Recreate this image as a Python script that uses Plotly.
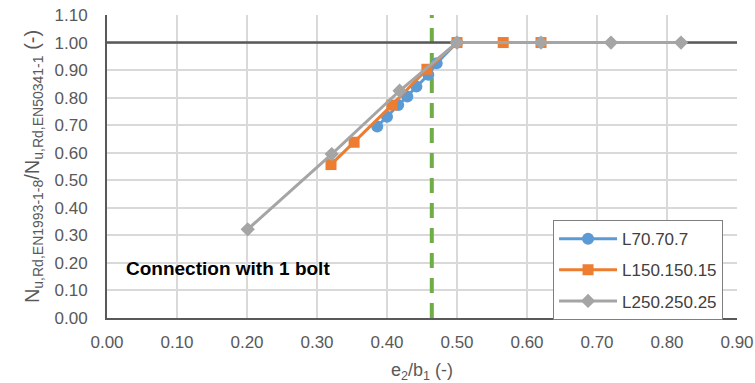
import plotly.graph_objects as go

# Data
x_l70 = [0.386, 0.400, 0.416, 0.429, 0.442, 0.459, 0.471, 0.500]
y_l70 = [0.695, 0.731, 0.773, 0.804, 0.840, 0.883, 0.925, 1.000]

x_l150 = [0.320, 0.353, 0.407, 0.457, 0.500, 0.566, 0.620]
y_l150 = [0.557, 0.638, 0.773, 0.903, 1.000, 1.000, 1.000]

x_l250 = [0.201, 0.321, 0.418, 0.500, 0.620, 0.720, 0.820]
y_l250 = [0.322, 0.595, 0.825, 1.000, 1.000, 1.000, 1.000]

names = ["L70.70.7", "L150.150.15", "L250.250.25"]
ref_y = 1.0
ref_x = 0.464
x_ticks = [0.0, 0.1, 0.2, 0.3, 0.4, 0.5, 0.6, 0.7, 0.8, 0.9]
y_ticks = [0.0, 0.1, 0.2, 0.3, 0.4, 0.5, 0.6, 0.7, 0.8, 0.9, 1.0, 1.1]

FONT = "Liberation Sans"
TXT = "#595959"

fig = go.Figure()

# green dashed reference line
fig.add_trace(go.Scatter(x=[ref_x, ref_x], y=[0, 1.1], mode="lines",
                         line=dict(color="#70AD47", width=4, dash="15px,10px"),
                         showlegend=False, hoverinfo="skip"))
# horizontal line at 1.0
fig.add_trace(go.Scatter(x=[0, 0.9], y=[ref_y, ref_y], mode="lines",
                         line=dict(color="#595959", width=2.5),
                         showlegend=False, hoverinfo="skip", cliponaxis=False))

fig.add_trace(go.Scatter(x=x_l70, y=y_l70, name=names[0], mode="lines+markers",
                         legendgroup="a",
                         line=dict(color="#5B9BD5", width=3),
                         marker=dict(symbol="circle", size=12, color="#5B9BD5")))
fig.add_trace(go.Scatter(x=x_l150, y=y_l150, name=names[1], mode="lines+markers",
                         legendgroup="b",
                         line=dict(color="#ED7D31", width=3),
                         marker=dict(symbol="square", size=11, color="#ED7D31")))
fig.add_trace(go.Scatter(x=x_l250, y=y_l250, name=names[2], mode="lines+markers",
                         legendgroup="c",
                         line=dict(color="#A5A5A5", width=3),
                         marker=dict(symbol="diamond", size=11, color="#A5A5A5")))

fig.add_annotation(x=0.024, y=0.18, xref="x", yref="y", text="<b>Connection with 1 bolt</b>",
                   showarrow=False, xanchor="left", yanchor="middle",
                   font=dict(family=FONT, size=19, color="#000000"))

fig.update_layout(
    width=755, height=383,
    margin=dict(l=107, r=18, t=15, b=65, autoexpand=False),
    paper_bgcolor="white", plot_bgcolor="white",
    font=dict(family=FONT, size=17, color=TXT),
    legend=dict(x=0.708, y=0.323, xanchor="left", yanchor="top",
                bgcolor="white", bordercolor="#7F7F7F", borderwidth=1,
                font=dict(family=FONT, size=17, color="#404040"),
                tracegroupgap=6, itemwidth=58),
    xaxis=dict(range=[0, 0.9], tickvals=x_ticks, tickformat=".2f",
               automargin=False,
               showgrid=True, gridcolor="#D9D9D9", gridwidth=1.5,
               showline=True, linecolor="#595959", linewidth=2,
               zeroline=False, ticks="", ticklen=0, ticklabelstandoff=8,
               tickfont=dict(family=FONT, size=17, color=TXT),
               title=dict(text="e<sub>2</sub>/b<sub>1</sub> (-)", standoff=14,
                          font=dict(family=FONT, size=18, color=TXT))),
    yaxis=dict(range=[0, 1.1], tickvals=y_ticks, tickformat=".2f",
               automargin=False,
               showgrid=True, gridcolor="#D9D9D9", gridwidth=1.5,
               showline=True, linecolor="#595959", linewidth=2,
               zeroline=False, ticks="", ticklen=0, ticklabelstandoff=14,
               tickfont=dict(family=FONT, size=17, color=TXT),
               title=dict(text="N<sub>u,Rd,EN1993-1-8</sub>/N<sub>u,Rd,EN50341-1</sub> (-)",
                          standoff=10,
                          font=dict(family=FONT, size=20, color=TXT))),
)

fig.write_html("out.html")
